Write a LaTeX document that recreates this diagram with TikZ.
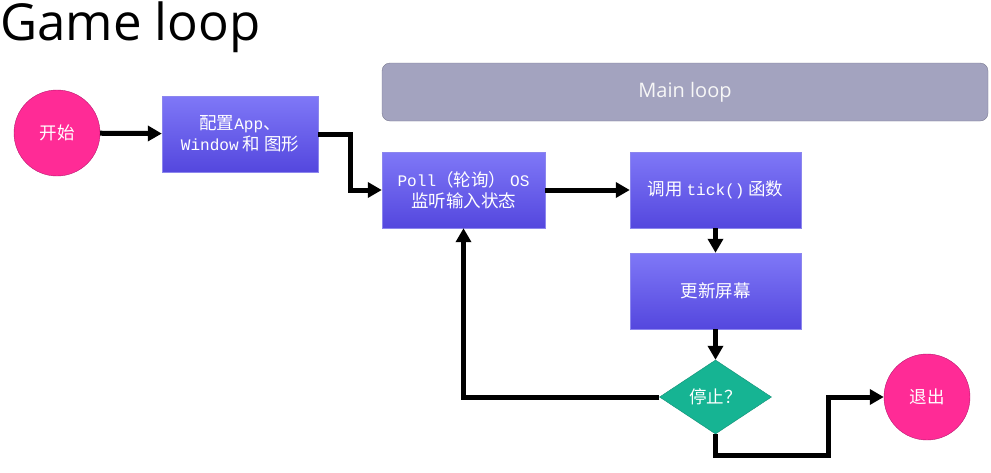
\documentclass[tikz,border=0pt]{standalone}
\usepackage{fontspec}
\setmainfont{Open Sans}
\newfontfamily\cjk{Noto Sans CJK SC}
\newfontfamily\lat{Liberation Mono}[Scale=0.92]
\usetikzlibrary{arrows.meta,positioning,calc}
\usetikzlibrary{shapes.geometric}
\definecolor{pinkc}{HTML}{FF2B96}
\definecolor{pinkd}{HTML}{B8166E}
\definecolor{boxtop}{HTML}{7F78F7}
\definecolor{boxbot}{HTML}{5447DE}
\definecolor{boxline}{HTML}{8C86EE}
\definecolor{loopfill}{HTML}{A3A3BF}
\definecolor{loopline}{HTML}{7A7A90}
\definecolor{teal}{HTML}{16B493}
\begin{document}
\begin{tikzpicture}[x=1pt,y=-1pt,
every node/.style={text=white, font=\cjk\fontsize{17.5}{21}\selectfont},
circ/.style={circle, draw=pinkd, fill=pinkc, minimum size=86pt, inner sep=0},
box/.style={rectangle, draw=boxline, top color=boxtop, bottom color=boxbot, align=center, inner sep=0},
arr/.style={line width=5pt, -{Triangle[length=14pt,width=15pt]}}]
\useasboundingbox (0,0) rectangle (991,472);
\node[anchor=base west, inner sep=0, text=black, font=\fontsize{51}{52}\selectfont] (T1) at (0,40) {Game loop};
\node[rectangle, rounded corners=8pt, draw=loopline, fill=loopfill, minimum width=606pt, minimum height=58pt, text=white!94!gray, font=\fontsize{20}{22}\selectfont] (M1) at (685,92) {Main loop};
\node[circ] (C1) at (57,133) {开始};
\node[circ] (C2) at (927,397) {退出};
\node[box, minimum width=156pt, minimum height=76pt] (B1) at (240,134) {配置{\lat App}、\\{\lat Window} 和 图形};
\node[box, minimum width=163pt, minimum height=76pt] (B2) at (463.5,190) {{\lat Poll}（轮询） {\lat OS}\\监听输入状态};
\node[box, minimum width=171pt, minimum height=76pt] (B3) at (715.5,190) {调用 {\lat tick()} 函数};
\node[box, minimum width=171pt, minimum height=76pt] (B4) at (715.5,291) {更新屏幕};
\node[diamond, aspect=1.5, fill=teal, draw=teal!80!black, inner sep=0, minimum width=112pt, minimum height=74pt] (D1) at (715.5,397) {停止？};
\coordinate (K1) at (828,455);
\draw[arr] (C1) -- (B1);
\draw[arr] (B1.east) -- ++(32,0) |- (B2.west);
\draw[arr] (B2) -- (B3);
\draw[arr] (B3) -- (B4);
\draw[arr] (B4) -- (D1);
\draw[arr] (D1.west) -| (B2.south);
\draw[arr] (D1.south) |- (K1) |- (C2.west);
\end{tikzpicture}
\end{document}
